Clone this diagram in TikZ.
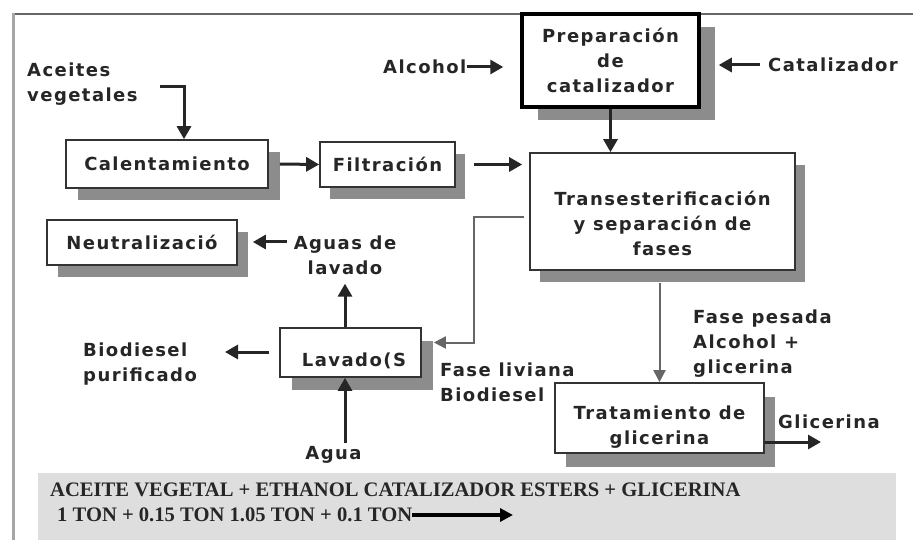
\documentclass[tikz,border=0pt]{standalone}
\usepackage{fontspec}
\setmainfont{DejaVu Sans}[LetterSpace=8]
\newfontfamily\serifb{Liberation Serif}
\usetikzlibrary{arrows.meta,shadows}
\begin{document}
\begin{tikzpicture}[x=1pt,y=-1pt,
 txt/.style={font=\bfseries\fontsize{18}{25}\selectfont, text=black!85, inner sep=0pt},
 box/.style={txt, draw=black!80, line width=1.7pt, fill=white, align=center},
 shad/.style 2 args={drop shadow={shadow xshift=#1pt, shadow yshift=-#2pt, fill=black!45, opacity=1}},
 arr/.style={line width=3pt, black!85, -{Triangle[length=13pt,width=14pt]}},
 thinarr/.style={line width=2pt, black!60, -{Triangle[length=12pt,width=12pt]}},
 eqtxt/.style={font=\serifb\bfseries\fontsize{20.6}{24}\selectfont, text=black!85, inner sep=0pt}]
\useasboundingbox (0,0) rectangle (913,540);
\fill[white] (0,0) rectangle (913,540);
% frame
\draw[black!60, line width=2pt] (12,14) -- (913,14);
\draw[black!35, line width=3pt] (13,13) -- (13,540);
% bottom band
\fill[black!13] (38,473) rectangle (896,540);
% boxes
\node[box, shad={16}{13}, line width=3.5pt, draw=black, minimum width=177pt, minimum height=93pt] (prep) at (610.5,60.5) {Preparación\\de\\catalizador};
\node[box, shad={10}{12}, minimum width=265pt, minimum height=117pt] (trans) at (662.5,211.5) {};
\node[txt, align=center] (transT) at (662.5,223.5) {Transesterificación\\y separación de\\fases};
\node[box, shad={12}{12}, minimum width=202pt, minimum height=48pt] (cal) at (167,164) {Calentamiento};
\node[box, shad={10}{12}, minimum width=135pt, minimum height=45pt] (fil) at (387.5,164.5) {Filtración};
\node[box, shad={11}{12}, minimum width=190pt, minimum height=45pt] (neu) at (142,242.5) {Neutralizació};
\node[box, shad={12}{13}, minimum width=141pt, minimum height=49pt] (lav) at (350.5,352.5) {};
\node[txt] (lavT) at (354,361) {Lavado(S};
\node[box, shad={11}{14}, minimum width=209pt, minimum height=70pt] (tra) at (659.5,418) {};
\node[txt, align=center] (traT) at (659.5,427.5) {Tratamiento de\\glicerina};
% labels
\node[txt, align=left, anchor=west] (ace) at (27,84.5) {Aceites\\vegetales};
\node[txt, anchor=west] (alc) at (383,67) {Alcohol};
\node[txt, anchor=west] (cat) at (768,65) {Catalizador};
\node[txt, align=center] (aguas) at (345,255) {Aguas de\\lavado};
\node[txt, align=left, anchor=west] (bio) at (83,364.5) {Biodiesel\\purificado};
\node[txt] (agua) at (333.5,455) {Agua};
\node[txt, align=left, anchor=west] (pesada) at (693,343.5) {Fase pesada\\Alcohol +\\glicerina};
\node[txt, align=left, anchor=west] (liviana) at (440,382) {Fase liviana\\Biodiesel};
\node[txt, anchor=west] (glic) at (778,422) {Glicerina};
\node[eqtxt, anchor=west] (eq1) at (50,490) {ACEITE VEGETAL + ETHANOL CATALIZADOR ESTERS + GLICERINA};
\node[eqtxt, anchor=west] (eq2) at (57,515) {1 TON + 0.15 TON 1.05 TON + 0.1 TON};
% free-end coordinates
\coordinate (aceA) at (160,87);
\coordinate (aguaTop) at (345,443);
\coordinate (bioTip) at (225,352);
\coordinate (neuSrc) at (287,242);
\coordinate (glEnd) at (821,442);
\coordinate (eqEnd) at (513,515);
% connectors
\draw[arr] (aceA) -| ([xshift=17pt]cal.north);
\draw[arr] ([xshift=11pt]cal.east) -- (fil.west);
\draw[arr] ([xshift=18pt]fil.east) -- ([xshift=-7pt]trans.west |- fil.east);
\draw[arr] (alc.east) -- ([xshift=-17pt]prep.west |- alc.east);
\draw[arr, shorten <=8pt] (cat.west) -- ([xshift=18pt]prep.east |- cat.west);
\draw[arr] (prep.south) -- (prep.south |- trans.north);
\draw[thinarr] ([shift={(-5,5.5)}]trans.west) -- ++(-50,0) |- ([xshift=12pt,yshift=10pt]lav.east);
\draw[thinarr] ([yshift=-12pt]trans.south -| tra.north) -- (tra.north);
\draw[arr] ([yshift=-24pt]tra.east) -- (glEnd);
\draw[arr, shorten >=9pt] (aguas.south |- lav.north) -- (aguas.south);
\draw[arr] (aguaTop) -- (aguaTop |- lav.south);
\draw[arr, shorten <=10pt] (lav.west |- bioTip) -- (bioTip);
\draw[arr] (neuSrc) -- ([xshift=15pt]neu.east |- neuSrc);
\draw[line width=3.5pt, black, -{Triangle[length=13pt,width=13pt]}] (eq2.east) -- (eqEnd);
\end{tikzpicture}
\end{document}
